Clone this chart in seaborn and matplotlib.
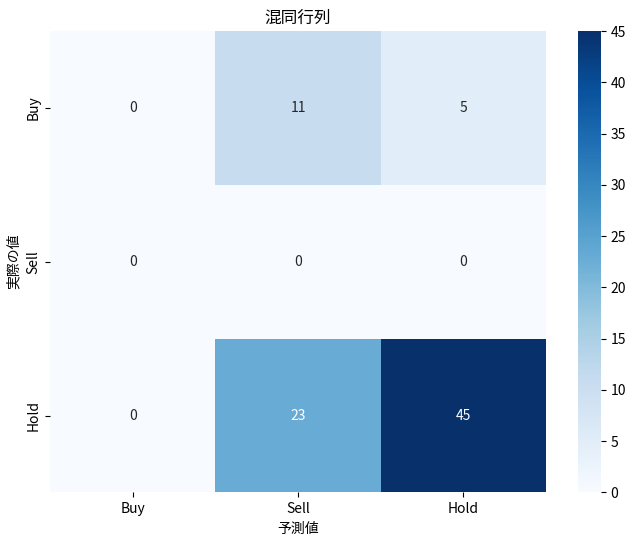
import numpy as np
import pandas as pd
import matplotlib
matplotlib.use("Agg")
import matplotlib.pyplot as plt
import seaborn as sns

# ラベルと混同行列の値
labels = ["Buy", "Sell", "Hold"]
row_buy = [0, 11, 5]
row_sell = [0, 0, 0]
row_hold = [0, 23, 45]

plt.rcParams['font.family'] = ['Noto Sans CJK JP', 'DejaVu Sans']

cm = pd.DataFrame([row_buy, row_sell, row_hold], index=labels, columns=labels)

fig = plt.figure(figsize=(6.38, 5.44), dpi=100)
ax = fig.add_axes([0.0784, 0.0947, 0.7774, 0.8483])
cax = fig.add_axes([0.906, 0.0947, 0.036, 0.8483])

sns.heatmap(cm, annot=True, fmt="d", cmap="Blues", ax=ax, cbar_ax=cax,
            annot_kws={"fontsize": 10})
ax.set_title("混同行列", fontsize=12)
ax.set_xlabel("予測値", fontsize=10)
ax.set_ylabel("実際の値", fontsize=10)
ax.tick_params(labelsize=10)
cax.tick_params(labelsize=10)

fig.savefig("out.png", dpi=100)
